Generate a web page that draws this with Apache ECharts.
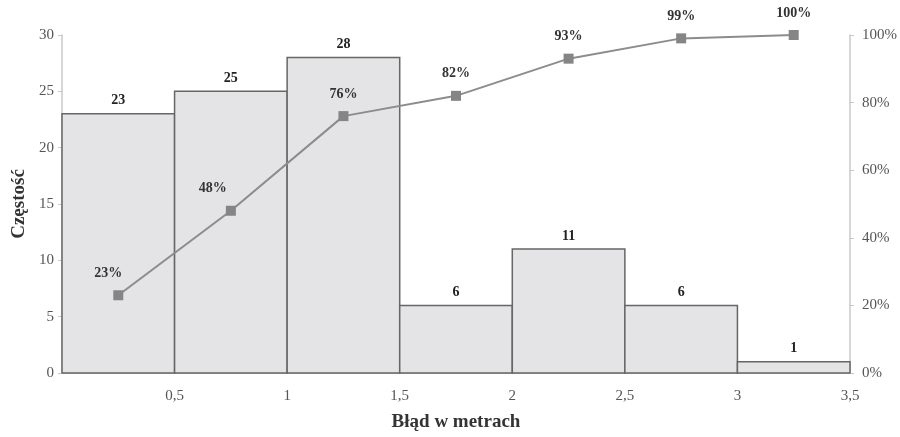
<!DOCTYPE html>
<html><head><meta charset="utf-8">
<script src="https://cdn.jsdelivr.net/npm/echarts@6/dist/echarts.min.js"></script>
<style>html,body{margin:0;padding:0;background:#fff}#c{width:900px;height:437px}</style>
</head><body><div id="c"></div>
<script>
const binStarts = [0, 0.5, 1, 1.5, 2, 2.5, 3];
const binWidth = 0.5;
const counts = [23, 25, 28, 6, 11, 6, 1];
const cumulative = [0.23, 0.48, 0.76, 0.82, 0.93, 0.99, 1.00];
const cumLabels = ['23%', '48%', '76%', '82%', '93%', '99%', '100%'];
const labelOffsets = [[-10, 0], [-18, 0], [0, 0], [0, 0], [0, 0], [0, 0], [0, 0]];

const chart = echarts.init(document.getElementById('c'));
const serif = '"Liberation Serif", "DejaVu Serif", serif';
const barData = binStarts.map((s, i) => [s, s + binWidth, counts[i]]);
const lineData = binStarts.map((s, i) => ({
  value: [s + binWidth / 2, cumulative[i]],
  label: { offset: labelOffsets[i], formatter: cumLabels[i] }
}));
chart.setOption({
  animation: false,
  backgroundColor: '#fff',
  grid: { left: 62, right: 46, top: 35, bottom: 55 },
  xAxis: {
    type: 'value', min: 0, max: 3.5, interval: 0.5,
    name: 'Błąd w metrach', nameLocation: 'middle', nameGap: 40,
    nameTextStyle: { fontFamily: serif, fontSize: 19, fontWeight: 'bold', color: '#333' },
    axisLine: { lineStyle: { color: '#c8c8c8', width: 2 } },
    axisTick: { show: false },
    splitLine: { show: false },
    axisLabel: {
      fontFamily: serif, fontSize: 15, color: '#555', margin: 16,
      formatter: v => v === 0 ? '' : String(v).replace('.', ',')
    }
  },
  yAxis: [{
    type: 'value', min: 0, max: 30, interval: 5,
    name: 'Częstość', nameLocation: 'middle', nameGap: 31,
    nameTextStyle: { fontFamily: serif, fontSize: 19, fontWeight: 'bold', color: '#333' },
    axisLine: { show: true, lineStyle: { color: '#c8c8c8', width: 1.5 } },
    axisTick: { show: true, length: 4, lineStyle: { color: '#c8c8c8' } },
    splitLine: { show: false },
    axisLabel: { fontFamily: serif, fontSize: 15, color: '#555', margin: 8 }
  }, {
    type: 'value', min: 0, max: 1, interval: 0.2, position: 'right',
    axisLine: { show: true, lineStyle: { color: '#c8c8c8', width: 1.5 } },
    axisTick: { show: true, length: 4, lineStyle: { color: '#c8c8c8' } },
    splitLine: { show: false },
    axisLabel: { fontFamily: serif, fontSize: 15, color: '#555', margin: 12,
      formatter: v => Math.round(v * 100) + '%' }
  }],
  series: [{
    type: 'custom',
    xAxisIndex: 0, yAxisIndex: 0,
    data: barData,
    encode: { x: [0, 1], y: 2 },
    renderItem: (params, api) => {
      const p0 = api.coord([api.value(0), api.value(2)]);
      const p1 = api.coord([api.value(1), 0]);
      return {
        type: 'group',
        children: [{
          type: 'rect',
          shape: { x: p0[0], y: p0[1], width: p1[0] - p0[0], height: p1[1] - p0[1] },
          style: { fill: '#e4e4e6', stroke: '#666', lineWidth: 1.5 }
        }, {
          type: 'text',
          style: {
            x: (p0[0] + p1[0]) / 2, y: p0[1] - 6,
            text: String(api.value(2)),
            align: 'center', verticalAlign: 'bottom',
            font: 'bold 14px ' + serif, fill: '#222'
          }
        }]
      };
    },
    z: 1
  }, {
    type: 'line',
    xAxisIndex: 0, yAxisIndex: 1,
    data: lineData,
    symbol: 'rect', symbolSize: 10,
    itemStyle: { color: '#858585' },
    lineStyle: { color: '#8c8c8c', width: 2 },
    label: {
      show: true, position: 'top', distance: 10,
      fontFamily: serif, fontSize: 14, fontWeight: 'bold', color: '#333'
    },
    z: 3
  }]
});
</script></body></html>
